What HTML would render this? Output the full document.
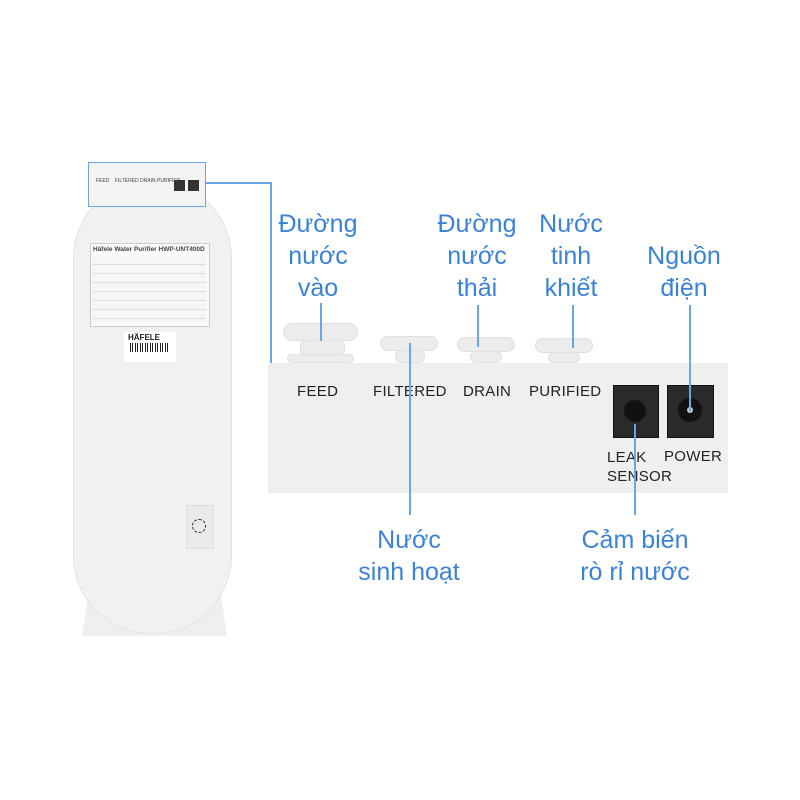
<!DOCTYPE html>
<html><head><meta charset="utf-8"><style>
body{margin:0;width:800px;height:800px;background:#fff;position:relative;overflow:hidden;font-family:"Liberation Sans",sans-serif}
.a{position:absolute}
.lb{position:absolute;color:#3a82d8;font-size:25px;text-align:center;line-height:32px;width:140px}
.v{position:absolute;width:1.5px;background:#6aa6e8}
.pt{position:absolute;font-size:15px;color:#222;letter-spacing:.3px}
.cap{position:absolute;background:#ececec;border-radius:6px;border:1px solid #e0e0e0;box-sizing:border-box}
</style></head><body>
<!-- left device -->
<div class="a" style="left:82px;top:560px;width:145px;height:76px;background:#efefef;clip-path:polygon(8% 0,92% 0,100% 100%,0 100%)"></div>
<div class="a" style="left:73px;top:180px;width:157px;height:452px;background:#f1f1f1;border-radius:78px;border:1px solid #e2e2e2"></div>
<div class="a" style="left:88px;top:162px;width:118px;height:45px;background:#f3f3f3;border:1.5px solid #6aa6e8;box-sizing:border-box"></div>
<div class="a" style="left:96px;top:178px;font-size:5px;color:#444;white-space:nowrap">FEED &nbsp;&nbsp;&nbsp;FILTERED DRAIN PURIFIED</div>
<div class="a" style="left:174px;top:180px;width:11px;height:11px;background:#333"></div>
<div class="a" style="left:188px;top:180px;width:11px;height:11px;background:#333"></div>
<div class="a" style="left:90px;top:243px;width:118px;height:82px;background:#fafafa;border:1px solid #ccc"></div>
<div class="a" style="left:93px;top:246px;font-size:6.5px;font-weight:bold;color:#444">Häfele Water Purifier HWP-UNT400D</div>
<div class="a" style="left:92px;top:256px;width:114px;height:66px;background:repeating-linear-gradient(#f6f6f6 0 8px,#ddd 8px 9px)"></div>
<div class="a" style="left:124px;top:332px;width:52px;height:30px;background:#fff"></div>
<div class="a" style="left:128px;top:333px;font-size:8px;font-weight:bold;color:#222">HÄFELE</div>
<div class="a" style="left:130px;top:343px;width:40px;height:9px;background:repeating-linear-gradient(90deg,#222 0 1px,#fff 1px 2px,#222 2px 3px,#fff 3px 5px)"></div>
<div class="a" style="left:186px;top:505px;width:26px;height:42px;background:#eaeaea;border:1px solid #ddd"></div>
<div class="a" style="left:192px;top:519px;width:12px;height:12px;border:1.5px dashed #333;border-radius:50%"></div>
<!-- connector -->
<div class="a" style="left:206px;top:182px;width:65px;height:1.5px;background:#6aa6e8"></div>
<div class="v" style="left:270px;top:182px;height:181px"></div>
<!-- right panel -->
<div class="cap" style="left:283px;top:323px;width:75px;height:18px;border-radius:10px"></div>
<div class="cap" style="left:300px;top:340px;width:45px;height:16px"></div>
<div class="cap" style="left:287px;top:354px;width:67px;height:9px"></div>
<div class="cap" style="left:380px;top:336px;width:58px;height:15px;border-radius:8px"></div>
<div class="cap" style="left:395px;top:350px;width:30px;height:13px"></div>
<div class="cap" style="left:457px;top:337px;width:58px;height:15px;border-radius:8px"></div>
<div class="cap" style="left:470px;top:351px;width:32px;height:12px"></div>
<div class="cap" style="left:535px;top:338px;width:58px;height:15px;border-radius:8px"></div>
<div class="cap" style="left:548px;top:352px;width:32px;height:11px"></div>
<div class="a" style="left:268px;top:363px;width:460px;height:130px;background:#efefef"></div>
<div class="pt" style="left:297px;top:383px">FEED</div>
<div class="pt" style="left:373px;top:383px">FILTERED</div>
<div class="pt" style="left:463px;top:383px">DRAIN</div>
<div class="pt" style="left:529px;top:383px">PURIFIED</div>
<div class="a" style="left:613px;top:385px;width:44px;height:51px;background:#2a2a2a;border:1px solid #111"></div>
<div class="a" style="left:624px;top:400px;width:22px;height:22px;border-radius:50%;background:#111"></div>
<div class="a" style="left:667px;top:385px;width:45px;height:51px;background:#2a2a2a;border:1px solid #111"></div>
<div class="a" style="left:678px;top:398px;width:24px;height:24px;border-radius:50%;background:#111"></div>
<div class="a" style="left:687px;top:407px;width:6px;height:6px;border-radius:50%;background:#ccc"></div>
<div class="pt" style="left:607px;top:448px;line-height:19px">LEAK<br>SENSOR</div>
<div class="pt" style="left:664px;top:448px">POWER</div>
<!-- leader lines -->
<div class="v" style="left:320px;top:303px;height:38px"></div>
<div class="v" style="left:409px;top:343px;height:172px"></div>
<div class="v" style="left:477px;top:305px;height:42px"></div>
<div class="v" style="left:572px;top:305px;height:43px"></div>
<div class="v" style="left:634px;top:424px;height:91px"></div>
<div class="v" style="left:689px;top:305px;height:107px"></div>
<!-- labels -->
<div class="lb" style="left:248px;top:208px">Đường<br>nước<br>vào</div>
<div class="lb" style="left:407px;top:208px">Đường<br>nước<br>thải</div>
<div class="lb" style="left:501px;top:208px">Nước<br>tinh<br>khiết</div>
<div class="lb" style="left:614px;top:240px">Nguồn<br>điện</div>
<div class="lb" style="left:339px;top:524px">Nước<br>sinh hoạt</div>
<div class="lb" style="left:555px;top:524px;width:160px">Cảm biến<br>rò rỉ nước</div>
</body></html>
